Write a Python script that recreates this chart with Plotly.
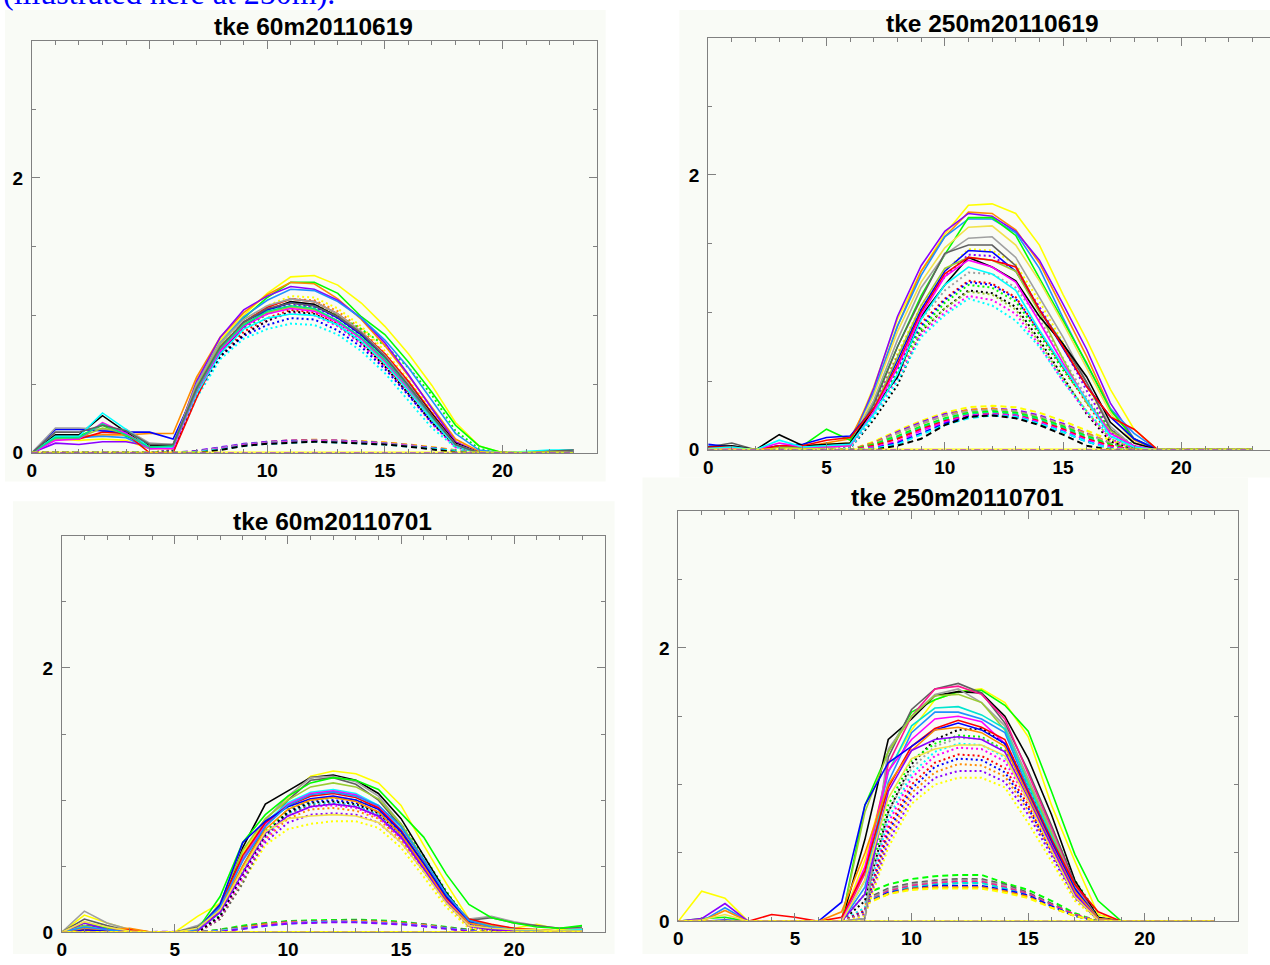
import plotly.graph_objects as go

W, H = 1270, 965
HOURS = list(range(24))
X_TICKS = [0, 5, 10, 15, 20]
Y_TICKS = [0, 2]
TITLES = ["tke 60m20110619", "tke 250m20110619", "tke 60m20110701", "tke 250m20110701"]
CAPTION = "(illustrated here at 250m)."
N = None

YEL, GRN, ORG, PUR, DBL = "#ffff00", "#00ff00", "#ff8c00", "#8a00ff", "#1e90ff"
RED, BLK, BLU, GRY, YGR = "#ff0000", "#000000", "#0000ff", "#a0a0a0", "#9acd32"
CYN, MAG, SGR, DGY, LYE = "#00ffff", "#ff00ff", "#00e68a", "#606060", "#f2e24a"
PNK, TRQ = "#ff1493", "#00e5d0"

BASELINE = [0, 0, 0, 0, 0, 0, 0, 0, 0, 0, 0, 0, 0, 0, 0, 0, 0, 0, 0, 0, 0, 0, 0, 0]

# ---------------- panel 1 : tke 60m 20110619 ----------------
TL_SOLID_COLORS = [YEL, GRN, ORG, PUR, DBL, RED, BLK, BLU, GRY, YGR, CYN, MAG, SGR, DGY]
TL_SOLID = [
    [0, .10, .09, .10, .09, .03, .03, .53, .82, 1.00, 1.16, 1.28, 1.29, 1.22, 1.09, .92, .72, .49, .22, .05, 0, 0, 0, 0],
    [0, .10, .12, .20, .12, .05, .06, .50, .80, .98, 1.13, 1.24, 1.24, 1.16, .99, .86, .66, .44, .20, .05, 0, 0, 0, 0],
    [0, .12, .12, .13, .13, .14, .14, .55, .84, 1.02, 1.15, 1.24, 1.23, 1.12, .97, .78, .56, .33, .10, .01, 0, 0, .01, .01],
    [0, .07, .06, .08, .08, .05, .05, .52, .84, 1.04, 1.14, 1.21, 1.19, 1.11, .98, .80, .57, .32, .08, 0, 0, 0, 0, 0],
    [0, .12, .11, .12, .11, .03, .04, .50, .80, .99, 1.11, 1.19, 1.18, 1.10, .98, .82, .62, .38, .14, .02, 0, 0, 0, .01],
    [0, .12, .10, .15, .14, 0, 0, .40, .75, .95, 1.06, 1.12, 1.10, 1.01, .88, .72, .52, .29, .07, 0, 0, 0, 0, 0],
    [0, .13, .13, .27, .15, .05, .05, .46, .72, .92, 1.04, 1.10, 1.08, .99, .86, .70, .50, .28, .07, 0, 0, 0, .01, .02],
    [0, .17, .17, .16, .15, .15, .10, .47, .76, .95, 1.04, 1.09, 1.07, .98, .86, .70, .49, .27, .06, 0, 0, 0, 0, .01],
    [0, .18, .18, .17, .17, .07, .06, .50, .80, .97, 1.07, 1.12, 1.10, 1.01, .88, .71, .50, .27, .06, 0, 0, 0, .01, .02],
    [0, .10, .11, .18, .14, .04, .04, .48, .78, .94, 1.02, 1.06, 1.04, .96, .83, .66, .46, .24, .05, 0, 0, 0, 0, 0],
    [0, .12, .12, .29, .17, .04, .04, .43, .72, .90, .98, 1.01, 1.00, .93, .81, .65, .45, .24, .05, 0, 0, .01, .02, .02],
    [0, .09, .10, .22, .14, .03, .03, .45, .74, .92, 1.01, 1.05, 1.03, .95, .83, .67, .47, .26, .06, 0, 0, 0, 0, 0],
    [0, .11, .11, .21, .13, .04, .05, .46, .76, .93, 1.03, 1.07, 1.05, .96, .84, .68, .48, .26, .06, 0, 0, 0, 0, 0],
    [0, .15, .15, .20, .16, .06, .06, .47, .77, .95, 1.05, 1.09, 1.07, .99, .87, .70, .49, .27, .06, 0, 0, 0, .01, .02],
]
TL_DOTTED_COLORS = [YEL, ORG, YGR, GRN, PUR, RED, MAG, BLU, CYN, BLK]
TL_DOTTED = [
    [0, 0, 0, 0, 0, 0, .02, .48, .78, .95, 1.07, 1.14, 1.13, 1.05, .92, .74, .53, .31, .09, .01, 0, 0, 0, 0],
    [0, 0, 0, 0, 0, 0, .02, .47, .77, .94, 1.06, 1.12, 1.11, 1.03, .90, .72, .51, .29, .08, 0, 0, 0, 0, 0],
    [0, 0, 0, 0, 0, 0, .02, .45, .75, .92, 1.03, 1.09, 1.08, 1.00, .86, .68, .48, .26, .06, 0, 0, 0, 0, 0],
    [0, 0, 0, 0, 0, 0, .02, .44, .74, .90, 1.01, 1.07, 1.06, 1.00, .90, .78, .62, .42, .16, .03, 0, 0, 0, 0],
    [0, 0, 0, 0, 0, 0, .02, .45, .74, .91, 1.02, 1.08, 1.06, .98, .85, .67, .47, .26, .06, 0, 0, 0, 0, 0],
    [0, 0, 0, 0, 0, 0, .01, .43, .72, .88, .98, 1.04, 1.02, .94, .81, .64, .44, .23, .05, 0, 0, 0, 0, 0],
    [0, 0, 0, 0, 0, 0, .01, .42, .70, .86, .96, 1.02, 1.00, .92, .79, .62, .42, .21, .04, 0, 0, 0, 0, 0],
    [0, 0, 0, 0, 0, 0, .01, .42, .70, .85, .93, .98, .97, .89, .77, .61, .42, .22, .05, 0, 0, 0, 0, 0],
    [0, 0, 0, 0, 0, 0, .01, .40, .68, .83, .90, .94, .93, .86, .74, .58, .38, .18, .04, 0, 0, 0, 0, 0],
    [0, 0, 0, 0, 0, 0, .01, .44, .70, .86, .96, 1.03, 1.01, .93, .80, .63, .43, .22, .05, 0, 0, 0, 0, 0],
]
TL_DASHED_COLORS = [YEL, ORG, PUR, BLU, GRY, MAG, CYN, BLK]
TL_DASHED = [
    [0, 0, 0, 0, 0, 0, 0, .01, .03, .06, .075, .085, .09, .09, .085, .075, .06, .04, .015, 0, 0, 0, 0, 0],
    [0, 0, 0, 0, 0, 0, 0, .01, .035, .06, .08, .09, .095, .09, .085, .075, .06, .04, .015, 0, 0, 0, 0, 0],
    [0, 0, 0, 0, 0, 0, 0, .015, .04, .065, .08, .09, .09, .09, .08, .07, .055, .035, .01, 0, 0, 0, 0, 0],
    [0, 0, 0, 0, 0, 0, 0, .01, .035, .06, .075, .085, .085, .085, .08, .07, .055, .035, .01, 0, 0, 0, 0, 0],
    [0, 0, 0, 0, 0, 0, 0, .01, .035, .06, .075, .085, .09, .085, .08, .07, .055, .035, .01, 0, 0, 0, 0, 0],
    [0, 0, 0, 0, 0, 0, 0, .005, .03, .055, .07, .08, .085, .08, .075, .065, .05, .03, .01, 0, 0, 0, 0, 0],
    [0, 0, 0, 0, 0, 0, 0, .005, .025, .05, .065, .075, .08, .075, .07, .06, .045, .03, .01, 0, 0, 0, 0, 0],
    [0, 0, 0, 0, 0, 0, 0, 0, .02, .05, .065, .075, .08, .075, .07, .06, .045, .025, .005, 0, 0, 0, 0, 0],
]

# ---------------- panel 2 : tke 250m 20110619 ----------------
TR_SOLID_COLORS = [YEL, ORG, PUR, DBL, GRN, LYE, GRY, DGY, BLU, YGR, BLK, RED, MAG, CYN]
TR_SOLID = [
    [.01, .02, 0, .03, .01, .04, .05, .46, .95, 1.30, 1.57, 1.78, 1.79, 1.72, 1.49, 1.13, .80, .44, .15, 0, 0, 0, 0, 0],
    [.02, .02, 0, .02, .02, .05, .08, .42, .90, 1.30, 1.55, 1.73, 1.72, 1.60, 1.36, 1.02, .68, .30, .07, 0, 0, 0, 0, 0],
    [.02, .02, 0, .02, .01, .02, .03, .45, .97, 1.34, 1.59, 1.72, 1.70, 1.59, 1.38, 1.06, .73, .34, .08, 0, 0, 0, 0, 0],
    [.03, .03, 0, .03, .02, .03, .04, .42, .90, 1.27, 1.55, 1.68, 1.68, 1.58, 1.32, .96, .62, .30, .12, 0, 0, 0, 0, 0],
    [.02, .02, 0, .03, .03, .15, .07, .35, .75, 1.12, 1.42, 1.69, 1.69, 1.56, 1.25, .94, .63, .29, .08, 0, 0, 0, 0, 0],
    [.01, .01, 0, .02, .01, .02, .03, .40, .86, 1.22, 1.47, 1.62, 1.63, 1.49, 1.23, .92, .60, .27, .05, 0, 0, 0, 0, 0],
    [.02, .03, 0, .02, .02, .03, .04, .36, .80, 1.18, 1.42, 1.54, 1.55, 1.40, 1.11, .82, .49, .17, .02, 0, 0, 0, 0, 0],
    [.02, .05, 0, .02, .02, .03, .04, .33, .75, 1.10, 1.43, 1.49, 1.49, 1.34, 1.02, .77, .49, .15, .01, 0, 0, 0, 0, 0],
    [.04, .02, 0, .03, .04, .09, .10, .30, .65, 1.02, 1.30, 1.45, 1.44, 1.30, 1.02, .73, .46, .24, .08, 0, 0, 0, 0, 0],
    [.01, .01, 0, .02, .01, .02, .03, .30, .68, 1.05, 1.32, 1.40, 1.38, 1.30, 1.00, .66, .34, .14, .02, 0, 0, 0, 0, 0],
    [.02, .03, 0, .11, .03, .04, .05, .30, .53, .97, 1.20, 1.40, 1.33, 1.23, .97, .77, .53, .20, .05, 0, 0, 0, 0, 0],
    [.02, .02, 0, .03, .03, .07, .09, .30, .62, 1.00, 1.28, 1.40, 1.38, 1.33, 1.02, .75, .46, .24, .15, 0, 0, 0, 0, 0],
    [.01, .01, 0, .05, .02, .02, .03, .28, .60, .98, 1.26, 1.38, 1.33, 1.22, .93, .63, .36, .12, .03, 0, 0, 0, 0, 0],
    [.01, .02, 0, .07, .02, .03, .04, .26, .55, .95, 1.20, 1.33, 1.28, 1.16, .87, .61, .36, .10, .02, 0, 0, 0, 0, 0],
]
TR_DOTTED_COLORS = [YEL, PUR, GRY, RED, BLU, GRN, BLK, YGR, MAG, CYN]
TR_DOTTED = [
    [0, 0, 0, 0, 0, 0, .02, .33, .70, 1.05, 1.30, 1.46, 1.45, 1.35, 1.08, .78, .46, .15, .02, 0, 0, 0, 0, 0],
    [0, 0, 0, 0, 0, 0, .02, .32, .68, 1.02, 1.26, 1.42, 1.41, 1.30, 1.04, .75, .43, .14, .02, 0, 0, 0, 0, 0],
    [0, 0, 0, 0, 0, 0, .02, .30, .62, .95, 1.16, 1.29, 1.28, 1.18, .95, .66, .38, .12, .02, 0, 0, 0, 0, 0],
    [0, 0, 0, 0, 0, 0, .01, .28, .60, .92, 1.10, 1.23, 1.21, 1.11, .86, .60, .34, .10, .02, 0, 0, 0, 0, 0],
    [0, 0, 0, 0, 0, 0, .01, .28, .58, .90, 1.09, 1.22, 1.20, 1.10, .86, .60, .36, .13, .02, 0, 0, 0, 0, 0],
    [0, 0, 0, 0, 0, 0, .01, .27, .57, .88, 1.07, 1.20, 1.18, 1.08, .84, .58, .36, .15, .03, 0, 0, 0, 0, 0],
    [0, 0, 0, 0, 0, 0, .01, .22, .47, .86, 1.03, 1.16, 1.14, 1.04, .80, .53, .26, .06, .01, 0, 0, 0, 0, 0],
    [0, 0, 0, 0, 0, 0, .01, .26, .55, .86, 1.03, 1.15, 1.13, 1.02, .78, .52, .28, .08, .01, 0, 0, 0, 0, 0],
    [0, 0, 0, 0, 0, 0, .01, .25, .52, .84, 1.00, 1.12, 1.09, .99, .76, .50, .27, .08, .01, 0, 0, 0, 0, 0],
    [0, 0, 0, 0, 0, 0, .01, .24, .50, .82, .98, 1.10, 1.05, .94, .75, .50, .28, .10, .02, 0, 0, 0, 0, 0],
]
TR_DASHED_COLORS = [YEL, PUR, ORG, GRY, GRN, SGR, RED, MAG, BLU, CYN, BLK]
TR_DASHED = [
    [0, 0, 0, 0, 0, 0, 0, .06, .14, .21, .27, .31, .32, .31, .27, .21, .14, .07, .01, 0, 0, 0, 0, 0],
    [0, 0, 0, 0, 0, 0, 0, .05, .13, .20, .26, .29, .30, .29, .25, .19, .12, .05, 0, 0, 0, 0, 0, 0],
    [0, 0, 0, 0, 0, 0, 0, .05, .12, .19, .25, .29, .30, .28, .24, .18, .12, .05, 0, 0, 0, 0, 0, 0],
    [0, 0, 0, 0, 0, 0, 0, .04, .12, .19, .25, .28, .29, .28, .24, .18, .11, .05, 0, 0, 0, 0, 0, 0],
    [0, 0, 0, 0, 0, 0, 0, .04, .10, .17, .23, .27, .28, .27, .23, .17, .10, .04, 0, 0, 0, 0, 0, 0],
    [0, 0, 0, 0, 0, 0, 0, .03, .09, .16, .22, .26, .27, .26, .22, .16, .09, .03, 0, 0, 0, 0, 0, 0],
    [0, 0, 0, 0, 0, 0, 0, .03, .08, .15, .21, .25, .26, .25, .21, .15, .08, .03, 0, 0, 0, 0, 0, 0],
    [0, 0, 0, 0, 0, 0, 0, .02, .06, .14, .20, .25, .26, .25, .20, .14, .07, .02, 0, 0, 0, 0, 0, 0],
    [0, 0, 0, 0, 0, 0, 0, .01, .05, .12, .19, .24, .25, .24, .19, .13, .06, .01, 0, 0, 0, 0, 0, 0],
    [0, 0, 0, 0, 0, 0, 0, .01, .04, .11, .18, .23, .25, .24, .19, .13, .06, .01, 0, 0, 0, 0, 0, 0],
    [0, 0, 0, 0, 0, 0, 0, 0, .03, .08, .18, .24, .25, .23, .18, .11, .03, 0, 0, 0, 0, 0, 0, 0],
]

# ---------------- panel 3 : tke 60m 20110701 ----------------
BL_SOLID_COLORS = [YEL, BLK, GRY, DGY, GRN, YGR, CYN, MAG, RED, BLU, ORG, PUR, DBL, LYE]
BL_SOLID = [
    [0, .13, .07, .02, 0, 0, .12, .22, .60, .85, 1.02, 1.18, 1.22, 1.20, 1.13, .96, .66, .37, .10, .04, .03, .06, .02, .03],
    [0, .05, .03, 0, 0, 0, .03, .17, .64, .97, 1.07, 1.17, 1.19, 1.15, 1.05, .86, .58, .30, .08, .03, .02, .01, 0, .01],
    [0, .16, .07, .02, 0, 0, .05, .17, .55, .85, 1.03, 1.17, 1.18, 1.14, 1.03, .82, .55, .27, .10, .12, .08, .05, .03, .03],
    [0, .10, .05, .01, 0, 0, .04, .15, .50, .80, 1.00, 1.15, 1.17, 1.12, 1.00, .80, .54, .28, .09, .11, .07, .05, .03, .04],
    [0, .07, .03, 0, 0, 0, .02, .27, .68, .89, 1.03, 1.13, 1.17, 1.15, 1.08, .90, .72, .44, .21, .11, .07, .04, .03, .05],
    [0, .05, .02, 0, 0, 0, .02, .22, .62, .86, 1.00, 1.10, 1.13, 1.10, 1.01, .82, .55, .28, .09, .05, .03, .02, .01, .02],
    [0, .04, .02, 0, 0, 0, .02, .20, .56, .83, .98, 1.06, 1.08, 1.05, .96, .78, .52, .26, .07, .04, .02, .01, .01, .02],
    [0, .03, .01, 0, 0, 0, .02, .19, .55, .82, .97, 1.05, 1.07, 1.04, .95, .77, .51, .25, .07, .04, .02, .01, 0, .01],
    [0, .02, .01, .02, 0, 0, .02, .20, .58, .83, .96, 1.03, 1.05, 1.02, .94, .77, .52, .26, .10, .06, .03, .02, .01, .01],
    [0, .02, .01, 0, 0, 0, .02, .21, .68, .84, .95, 1.01, 1.03, 1.00, .93, .76, .52, .27, .08, .03, .02, .01, 0, .01],
    [0, .03, .02, .03, 0, 0, .02, .18, .50, .78, .93, 1.00, 1.02, .99, .91, .74, .50, .24, .07, .04, .02, .01, 0, .01],
    [0, .07, .02, 0, 0, 0, .01, .15, .45, .75, .88, .95, .97, .95, .88, .72, .48, .23, .05, .02, .01, 0, 0, .01],
    [0, .04, .02, 0, 0, 0, .02, .19, .54, .80, .96, 1.04, 1.06, 1.03, .96, .80, .55, .29, .09, .04, .02, .01, .01, .01],
    [0, .08, .04, .01, 0, 0, .03, .17, .48, .76, .86, .88, .89, .88, .83, .68, .46, .22, .05, .03, .02, .02, .01, .01],
]
BL_DOTTED_COLORS = [BLU, CYN, ORG, PUR, YEL, DGY, GRN, MAG, BLK]
BL_DOTTED = [
    [0, 0, 0, 0, 0, 0, 0, .12, .45, .74, .92, .99, 1.00, .98, .91, .75, .52, .26, .06, .02, 0, 0, 0, 0],
    [0, 0, 0, 0, 0, 0, 0, .12, .44, .72, .90, .97, .98, .96, .89, .73, .50, .25, .05, .02, 0, 0, 0, 0],
    [0, 0, 0, 0, 0, 0, 0, .11, .42, .70, .86, .93, .94, .92, .86, .70, .48, .23, .04, .01, 0, 0, 0, 0],
    [0, 0, 0, 0, 0, 0, 0, .10, .40, .68, .83, .89, .90, .89, .83, .68, .46, .22, .04, .01, 0, 0, 0, 0],
    [0, 0, 0, 0, 0, 0, 0, .10, .38, .66, .78, .82, .84, .84, .79, .64, .42, .19, .03, .01, 0, 0, 0, 0],
    [0, 0, 0, 0, 0, 0, 0, .10, .37, .72, .90, .96, .97, .95, .88, .72, .49, .25, .05, .02, 0, 0, 0, 0],
    [0, 0, 0, 0, 0, 0, 0, .13, .46, .76, .93, 1.00, 1.02, 1.00, .94, .82, .58, .31, .08, .03, 0, 0, 0, 0],
    [0, 0, 0, 0, 0, 0, 0, .11, .42, .71, .88, .95, .96, .94, .87, .71, .48, .24, .05, .02, 0, 0, 0, 0],
    [0, 0, 0, 0, 0, 0, 0, .12, .44, .74, .91, .98, .99, .97, .90, .74, .50, .26, .06, .02, 0, 0, 0, 0],
]
BL_DASHED_COLORS = [GRN, DGY, ORG, YEL, MAG, CYN, PUR]
BL_DASHED = [
    [0, 0, 0, 0, 0, 0, 0, .02, .05, .07, .085, .09, .095, .095, .09, .08, .06, .04, .02, .01, 0, 0, 0, 0],
    [0, 0, 0, 0, 0, 0, 0, .015, .04, .065, .08, .085, .09, .09, .085, .075, .06, .035, .015, 0, 0, 0, 0, 0],
    [0, 0, 0, 0, 0, 0, 0, .01, .035, .06, .075, .08, .085, .085, .08, .07, .055, .03, .01, 0, 0, 0, 0, 0],
    [0, 0, 0, 0, 0, 0, 0, .01, .03, .055, .07, .075, .08, .08, .075, .065, .05, .03, .01, 0, 0, 0, 0, 0],
    [0, 0, 0, 0, 0, 0, 0, .01, .03, .055, .07, .078, .082, .08, .075, .065, .05, .03, .01, 0, 0, 0, 0, 0],
    [0, 0, 0, 0, 0, 0, 0, .01, .03, .05, .065, .075, .08, .078, .072, .062, .048, .028, .01, 0, 0, 0, 0, 0],
    [0, 0, 0, 0, 0, 0, 0, .005, .025, .05, .065, .072, .076, .075, .07, .06, .045, .025, .008, 0, 0, 0, 0, 0],
]

# ---------------- panel 4 : tke 250m 20110701 ----------------
BR_SOLID_COLORS = [YEL, GRN, BLK, DGY, PNK, GRY, YGR, TRQ, DBL, MAG, RED, BLU, ORG, PUR, LYE]
BR_SOLID = [
    [0, .22, .17, 0, 0, 0, 0, 0, .45, 1.10, 1.40, 1.62, 1.68, 1.70, 1.60, 1.35, .85, .44, .05, 0, 0, 0, 0, 0],
    [0, .02, .03, 0, 0, 0, 0, 0, .85, 1.24, 1.53, 1.62, 1.68, 1.69, 1.58, 1.39, .95, .49, .15, 0, 0, 0, 0, 0],
    [0, 0, 0, 0, 0, 0, 0, 0, .60, 1.33, 1.48, 1.65, 1.68, 1.67, 1.50, 1.19, .78, .30, .03, 0, 0, 0, 0, 0],
    [0, 0, 0, 0, 0, 0, 0, 0, .02, 1.20, 1.55, 1.70, 1.74, 1.67, 1.45, 1.10, .70, .28, .02, 0, 0, 0, 0, 0],
    [0, 0, 0, 0, 0, 0, 0, 0, .35, 1.15, 1.50, 1.70, 1.72, 1.66, 1.48, 1.08, .68, .26, .02, 0, 0, 0, 0, 0],
    [0, 0, 0, 0, 0, 0, 0, 0, .02, 1.26, 1.50, 1.66, 1.70, 1.60, 1.43, 1.05, .66, .25, .02, 0, 0, 0, 0, 0],
    [0, 0, 0, 0, 0, 0, 0, 0, .80, 1.24, 1.50, 1.65, 1.66, 1.60, 1.40, 1.02, .64, .24, .02, 0, 0, 0, 0, 0],
    [0, 0, 0, 0, 0, 0, 0, 0, .30, 1.09, 1.43, 1.56, 1.57, 1.51, 1.41, 1.00, .62, .24, .01, 0, 0, 0, 0, 0],
    [0, 0, .10, 0, 0, 0, 0, 0, .25, 1.02, 1.38, 1.53, 1.53, 1.48, 1.38, .97, .60, .23, .01, 0, 0, 0, 0, 0],
    [0, 0, 0, 0, 0, 0, 0, 0, .40, 1.10, 1.33, 1.48, 1.50, 1.46, 1.30, .95, .58, .22, .01, 0, 0, 0, 0, 0],
    [0, 0, 0, 0, .05, .03, 0, .03, .37, .98, 1.28, 1.41, 1.47, 1.42, 1.33, .95, .60, .27, .07, 0, 0, 0, 0, 0],
    [0, 0, .01, 0, 0, 0, 0, .14, .85, 1.16, 1.28, 1.40, 1.45, 1.40, 1.30, .93, .58, .24, .02, 0, 0, 0, 0, 0],
    [0, 0, .08, 0, 0, 0, 0, .07, .50, 1.00, 1.25, 1.40, 1.42, 1.38, 1.28, .92, .56, .22, .02, 0, 0, 0, 0, 0],
    [0, .02, .13, 0, 0, 0, 0, 0, .20, .95, 1.25, 1.33, 1.35, 1.33, 1.24, .90, .55, .20, .01, 0, 0, 0, 0, 0],
    [0, .01, .05, 0, 0, 0, 0, 0, .30, .90, 1.19, 1.26, 1.29, 1.29, 1.21, .88, .52, .18, .01, 0, 0, 0, 0, 0],
]
BR_DOTTED_COLORS = [BLK, GRN, GRY, CYN, MAG, RED, BLU, ORG, PUR, YEL]
BR_DOTTED = [
    [0, 0, 0, 0, 0, 0, 0, 0, .15, .80, 1.15, 1.33, 1.40, 1.41, 1.30, .98, .60, .24, .01, 0, 0, 0, 0, 0],
    [0, 0, 0, 0, 0, 0, 0, 0, .20, .85, 1.18, 1.30, 1.36, 1.35, 1.25, 1.00, .68, .30, .05, 0, 0, 0, 0, 0],
    [0, 0, 0, 0, 0, 0, 0, 0, .10, .80, 1.12, 1.28, 1.34, 1.34, 1.24, .94, .58, .22, .01, 0, 0, 0, 0, 0],
    [0, 0, 0, 0, 0, 0, 0, 0, .10, .75, 1.08, 1.24, 1.30, 1.29, 1.20, .90, .55, .20, .01, 0, 0, 0, 0, 0],
    [0, 0, 0, 0, 0, 0, 0, 0, .08, .72, 1.05, 1.21, 1.27, 1.26, 1.17, .88, .54, .20, .01, 0, 0, 0, 0, 0],
    [0, 0, 0, 0, 0, 0, 0, 0, .08, .68, 1.00, 1.16, 1.22, 1.21, 1.12, .85, .52, .19, .01, 0, 0, 0, 0, 0],
    [0, 0, 0, 0, 0, 0, 0, 0, .07, .65, .97, 1.13, 1.19, 1.18, 1.09, .83, .51, .18, .01, 0, 0, 0, 0, 0],
    [0, 0, 0, 0, 0, 0, 0, 0, .06, .62, .94, 1.09, 1.15, 1.14, 1.06, .81, .50, .18, .01, 0, 0, 0, 0, 0],
    [0, 0, 0, 0, 0, 0, 0, 0, .05, .58, .90, 1.05, 1.10, 1.10, 1.02, .78, .48, .17, .01, 0, 0, 0, 0, 0],
    [0, 0, 0, 0, 0, 0, 0, 0, .04, .54, .86, 1.00, 1.05, 1.05, .98, .72, .44, .15, .01, 0, 0, 0, 0, 0],
]
BR_DASHED_COLORS = [GRN, DGY, GRY, PNK, TRQ, BLU, ORG, YEL]
BR_DASHED = [
    [N, N, N, N, N, N, N, N, .20, .27, .31, .33, .34, .34, .28, .23, .15, .06, 0, 0, 0, 0, 0, 0],
    [N, N, N, N, N, N, N, N, .16, .24, .28, .30, .31, .31, .27, .21, .13, .05, 0, 0, 0, 0, 0, 0],
    [N, N, N, N, N, N, N, N, .15, .23, .27, .29, .30, .30, .26, .20, .12, .05, 0, 0, 0, 0, 0, 0],
    [N, N, N, N, N, N, N, N, .14, .22, .26, .28, .29, .29, .25, .20, .12, .05, 0, 0, 0, 0, 0, 0],
    [N, N, N, N, N, N, N, N, .14, .21, .25, .27, .28, .28, .24, .19, .11, .04, 0, 0, 0, 0, 0, 0],
    [N, N, N, N, N, N, N, N, .13, .21, .24, .26, .26, .26, .23, .19, .11, .04, 0, 0, 0, 0, 0, 0],
    [N, N, N, N, N, N, N, N, .13, .20, .24, .25, .25, .25, .22, .18, .10, .04, 0, 0, 0, 0, 0, 0],
    [N, N, N, N, N, N, N, N, .12, .20, .23, .24, .24, .24, .21, .17, .10, .04, 0, 0, 0, 0, 0, 0],
]

# ---------------- layout (pixel geometry) ----------------
PANELS = [
    dict(title=TITLES[0], box=(27, 41, 594, 458), bg=(0, 10, 603, 487), tpos=(310, 27),
         solid=(TL_SOLID, TL_SOLID_COLORS), dot=(TL_DOTTED, TL_DOTTED_COLORS), dash=(TL_DASHED, TL_DASHED_COLORS)),
    dict(title=TITLES[1], box=(706, 38, 1276, 455), bg=(677, 10, 1270, 483), tpos=(991, 24),
         solid=(TR_SOLID, TR_SOLID_COLORS), dot=(TR_DOTTED, TR_DOTTED_COLORS), dash=(TR_DASHED, TR_DASHED_COLORS)),
    dict(title=TITLES[2], box=(57, 542, 602, 943), bg=(8, 507, 612, 965), tpos=(329, 528),
         solid=(BL_SOLID, BL_SOLID_COLORS), dot=(BL_DOTTED, BL_DOTTED_COLORS), dash=(BL_DASHED, BL_DASHED_COLORS)),
    dict(title=TITLES[3], box=(676, 517, 1238, 932), bg=(640, 483, 1248, 965), tpos=(956, 503),
         solid=(BR_SOLID, BR_SOLID_COLORS), dot=(BR_DOTTED, BR_DOTTED_COLORS), dash=(BR_DASHED, BR_DASHED_COLORS)),
]

BG = "#f9fbf6"
AX = "#808080"
TICKFONT = dict(family="Liberation Sans, Arial, sans-serif", size=19, color="black", weight="bold")

fig = go.Figure()
layout = dict(width=W, height=H, margin=dict(l=0, r=0, t=0, b=0, pad=0),
              paper_bgcolor="white", plot_bgcolor=BG, showlegend=False,
              shapes=[], annotations=[])

for i, p in enumerate(PANELS):
    k = "" if i == 0 else str(i + 1)
    left, top, right, bottom = p["box"]
    rc = min(right, W)
    xmax = 24 * (rc - left) / (right - left)
    layout["xaxis" + k] = dict(
        domain=[left / W, rc / W], range=[0, xmax], anchor="y" + k,
        tickmode="array", tickvals=X_TICKS, ticktext=[str(v) for v in X_TICKS],
        ticks="inside", ticklen=8, tickwidth=1, tickcolor=AX,
        showline=True, linecolor=AX, linewidth=1, mirror="allticks",
        minor=dict(tickmode="linear", tick0=0, dtick=1, ticks="inside", ticklen=4, tickcolor=AX),
        showgrid=False, zeroline=False, tickfont=TICKFONT, fixedrange=True)
    layout["yaxis" + k] = dict(
        domain=[1 - bottom / H, 1 - top / H], range=[0, 3], anchor="x" + k,
        tickmode="array", tickvals=Y_TICKS, ticktext=[str(v) for v in Y_TICKS],
        ticks="inside", ticklen=8, tickwidth=1, tickcolor=AX,
        showline=True, linecolor=AX, linewidth=1,
        mirror="allticks" if right <= W else False,
        minor=dict(tickmode="linear", tick0=0, dtick=0.5, ticks="inside", ticklen=4, tickcolor=AX),
        showgrid=False, zeroline=False, tickfont=TICKFONT, ticklabelstandoff=4, fixedrange=True)
    bx0, by0, bx1, by1 = p["bg"]
    layout["shapes"].append(dict(type="rect", xref="paper", yref="paper", layer="below",
                                 x0=bx0 / W, x1=bx1 / W, y0=1 - by1 / H, y1=1 - by0 / H,
                                 fillcolor=BG, line=dict(width=0)))
    tx, ty = p["tpos"]
    layout["annotations"].append(dict(text="<b>" + p["title"] + "</b>", xref="paper", yref="paper",
                                      x=tx / W, y=1 - ty / H, xanchor="center", yanchor="middle",
                                      showarrow=False,
                                      font=dict(family="Liberation Sans, Arial, sans-serif", size=24.5, color="black")))

    def add(series, colors, dash, width):
        for vals, c in zip(series, colors):
            assert len(vals) == 24
            fig.add_trace(go.Scatter(x=HOURS, y=vals, mode="lines", xaxis="x" + k, yaxis="y" + k,
                                     line=dict(color=c, width=width, dash=dash),
                                     hoverinfo="skip", connectgaps=False))

    add(*p["dash"], "6px,4px", 2)
    add(*p["dot"], "2px,3px", 2)
    add(*p["solid"], "solid", 1.6)
    add([BASELINE], [YEL], "solid", 2.5)
    add([BASELINE], [PUR], "6px,3px,2px,3px", 1.2)

layout["annotations"].append(dict(text=CAPTION, xref="paper", yref="paper",
                                  x=-4 / W, y=1 - 13 / H, xanchor="left", yanchor="bottom",
                                  showarrow=False,
                                  font=dict(family="Liberation Serif, Times New Roman, serif", size=32, color="#0000ff")))

fig.update_layout(**layout)
fig.write_html("out.html", config={"displayModeBar": False, "staticPlot": True},
               post_script="document.body.style.margin='0';document.body.style.padding='0';"
                           "document.documentElement.style.overflow='hidden';document.body.style.overflow='hidden';")
